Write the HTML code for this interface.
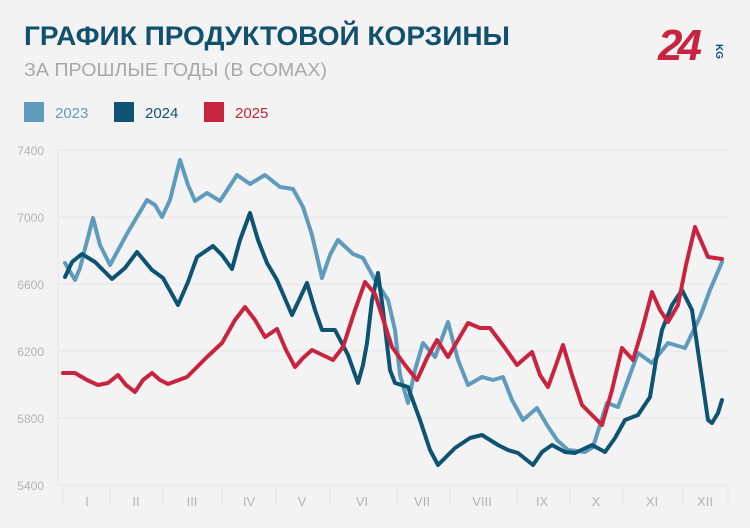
<!DOCTYPE html>
<html><head><meta charset="utf-8"><style>
body{margin:0;background:#f3f3f3;}
svg{display:block}
</style></head><body>
<svg width="750" height="528" xmlns="http://www.w3.org/2000/svg" font-family="Liberation Sans, sans-serif">
<rect width="750" height="528" fill="#f3f3f3"/>
<text x="24" y="45" font-size="27" font-weight="bold" fill="#11506e" textLength="486" lengthAdjust="spacingAndGlyphs">ГРАФИК ПРОДУКТОВОЙ КОРЗИНЫ</text>
<text x="24" y="76" font-size="18" fill="#a8a8a8" textLength="303" lengthAdjust="spacingAndGlyphs">ЗА ПРОШЛЫЕ ГОДЫ (В СОМАХ)</text>
<text x="658" y="60" font-size="44" font-weight="bold" font-style="italic" fill="#c8243f" letter-spacing="-5">24</text>
<text x="0" y="0" font-size="10" font-weight="bold" fill="#11506e" transform="translate(716,44) rotate(90)">KG</text>
<rect x="24" y="102" width="20" height="20" fill="#5e9bbd"/><text x="55" y="118" font-size="15" fill="#5e9bbd">2023</text>
<rect x="114" y="102" width="20" height="20" fill="#0e5372"/><text x="145" y="118" font-size="15" fill="#0e5372">2024</text>
<rect x="204" y="102" width="20" height="20" fill="#c8243f"/><text x="235" y="118" font-size="15" fill="#c8243f">2025</text>
<g stroke="#e6e6e6" stroke-width="1">
<line x1="58" y1="150" x2="728" y2="150"/><line x1="58" y1="217" x2="728" y2="217"/>
<line x1="58" y1="284" x2="728" y2="284"/><line x1="58" y1="351" x2="728" y2="351"/>
<line x1="58" y1="418" x2="728" y2="418"/><line x1="58" y1="485" x2="728" y2="485"/>
<line x1="58" y1="150" x2="58" y2="485"/>
<path d="M63,488V505M110,488V505M163,488V505M222,488V505M276,488V505M330,488V505M397,488V505M450,488V505M517,488V505M570,488V505M623,488V505M683,488V505M728,488V505"/>
</g>
<g font-size="12" fill="#b3b3b3" text-anchor="end">
<text x="44" y="155">7400</text><text x="44" y="222">7000</text><text x="44" y="289">6600</text>
<text x="44" y="356">6200</text><text x="44" y="423">5800</text><text x="44" y="490">5400</text>
</g>
<g font-size="13" fill="#b3b3b3" text-anchor="middle">
<text x="87" y="506">I</text><text x="136" y="506">II</text><text x="192" y="506">III</text><text x="249" y="506">IV</text>
<text x="302" y="506">V</text><text x="362" y="506">VI</text><text x="422" y="506">VII</text><text x="482" y="506">VIII</text>
<text x="542" y="506">IX</text><text x="596" y="506">X</text><text x="652" y="506">XI</text><text x="705" y="506">XII</text>
</g>
<g fill="none" stroke-width="4" stroke-linecap="round" stroke-linejoin="round">
<polyline stroke="#5e9bbd" points="65,263 75,280 80,268 93,218 100,245 110,265 128,232 147,200 155,205 162,217 170,200 180,160 188,185 195,201 207,193 220,201 237,175 250,184 265,175 280,187 293,189 303,207 312,235 322,278 330,255 338,240 353,254 363,258 375,280 388,300 395,330 400,375 408,403 415,370 423,343 435,357 448,322 458,360 468,385 482,377 493,380 503,377 512,400 523,420 537,408 547,425 557,440 568,450 585,452 593,447 600,425 607,403 618,407 628,380 638,353 652,363 668,343 685,348 700,317 710,290 722,262"/>
<polyline stroke="#0e5372" points="65,277 72,262 82,254 95,262 112,279 125,268 137,252 152,270 163,278 178,305 188,282 197,257 213,246 222,255 232,269 240,240 250,213 258,240 267,263 277,280 292,315 307,283 315,310 322,330 335,330 348,355 358,383 363,365 367,343 372,300 378,273 383,310 390,370 395,383 408,387 420,420 430,450 438,465 455,448 470,438 482,435 498,445 508,450 518,453 533,465 542,452 552,445 565,452 575,453 592,445 605,452 615,438 625,420 638,415 650,397 656,360 662,330 672,305 682,290 692,310 700,365 708,420 712,423 718,413 722,400"/>
<polyline stroke="#c8243f" points="63,373 75,373 87,380 98,385 108,383 118,375 126,385 135,392 143,380 152,373 160,380 168,384 187,377 207,357 222,343 235,320 245,307 255,320 265,337 277,329 286,350 295,367 303,358 312,350 333,360 343,347 355,310 365,282 375,294 392,347 405,365 417,380 427,358 437,340 448,357 458,340 468,323 480,328 490,328 505,348 517,365 532,352 540,375 548,387 556,365 563,345 572,375 582,405 602,425 612,390 622,348 633,360 642,330 652,292 660,310 668,322 678,305 686,265 695,227 708,257 722,259"/>
</g>
</svg>
</body></html>
